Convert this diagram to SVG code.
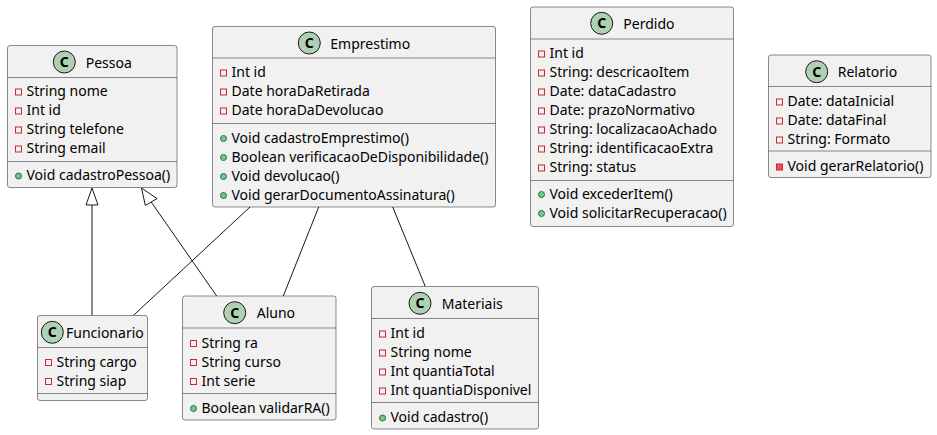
<svg xmlns="http://www.w3.org/2000/svg" width="937" height="435" viewBox="0 0 937 435">
<style>
.box{fill:#F1F1F1;stroke:#181818;stroke-width:0.5}
.sep{stroke:#181818;stroke-width:0.5}
.ci{fill:#ADD1B2;stroke:#181818;stroke-width:1}
.cl{font-family:"Noto Sans","DejaVu Sans",sans-serif;font-size:14px;font-weight:bold;fill:#000;text-anchor:middle}
.nm{font-family:"Noto Sans","DejaVu Sans",sans-serif;font-size:14px;fill:#000}
.tx{font-family:"Noto Sans","DejaVu Sans",sans-serif;font-size:14px;fill:#000}
.pa{fill:none;stroke:#C82930;stroke-width:1}
.pm{fill:#F24D5C;stroke:#C82930;stroke-width:1}
.pu{fill:#84BE84;stroke:#038048;stroke-width:1}
.ln{stroke:#181818;stroke-width:1;fill:none}
.tri{fill:none;stroke:#181818;stroke-width:1}
</style>
<rect width="937" height="435" fill="#FFFFFF"/>

<g id="connectors">
<polygon class="tri" points="92,188 86,205 98,205"/>
<line class="ln" x1="92" y1="205" x2="92" y2="315.5"/>
<polygon class="tri" points="141.5,188 145.3,205.4 157.1,198.6"/>
<line class="ln" x1="151.2" y1="202" x2="216.7" y2="296"/>
<line class="ln" x1="250" y1="207" x2="133.3" y2="315.5"/>
<line class="ln" x1="318.7" y1="207" x2="283.3" y2="296"/>
<line class="ln" x1="392.7" y1="207" x2="425.3" y2="286.5"/>
</g>

<g id="Pessoa">
<rect class="box" x="7.5" y="45.5" width="169.5" height="142" rx="2.5"/>
<circle class="ci" cx="64.3" cy="62" r="11"/>
<text class="cl" x="64.3" y="67">C</text>
<text class="nm" x="85.7" y="67.5">Pessoa</text>
<line class="sep" x1="7.5" y1="77.5" x2="177" y2="77.5"/>
<rect class="pa" x="15.5" y="89" width="6" height="6"/><text class="tx" x="26.5" y="96">String nome</text>
<rect class="pa" x="15.5" y="108" width="6" height="6"/><text class="tx" x="26.5" y="115">Int id</text>
<rect class="pa" x="15.5" y="127" width="6" height="6"/><text class="tx" x="26.5" y="134">String telefone</text>
<rect class="pa" x="15.5" y="146" width="6" height="6"/><text class="tx" x="26.5" y="153">String email</text>
<line class="sep" x1="7.5" y1="161.5" x2="177" y2="161.5"/>
<circle class="pu" cx="18.5" cy="176" r="3"/><text class="tx" x="26.5" y="180">Void cadastroPessoa()</text>
</g>

<g id="Emprestimo">
<rect class="box" x="212.5" y="26.5" width="283" height="180.5" rx="2.5"/>
<circle class="ci" cx="309.3" cy="43" r="11"/>
<text class="cl" x="309.3" y="48">C</text>
<text class="nm" x="330.3" y="48.5">Emprestimo</text>
<line class="sep" x1="212.5" y1="58" x2="495.5" y2="58"/>
<rect class="pa" x="220.5" y="70" width="6" height="6"/><text class="tx" x="231.5" y="77">Int id</text>
<rect class="pa" x="220.5" y="89" width="6" height="6"/><text class="tx" x="231.5" y="96">Date horaDaRetirada</text>
<rect class="pa" x="220.5" y="108" width="6" height="6"/><text class="tx" x="231.5" y="115">Date horaDaDevolucao</text>
<line class="sep" x1="212.5" y1="123.5" x2="495.5" y2="123.5"/>
<circle class="pu" cx="223.5" cy="138.5" r="3"/><text class="tx" x="231.5" y="142.5">Void cadastroEmprestimo()</text>
<circle class="pu" cx="223.5" cy="157.5" r="3"/><text class="tx" x="231.5" y="161.5">Boolean verificacaoDeDisponibilidade()</text>
<circle class="pu" cx="223.5" cy="176.5" r="3"/><text class="tx" x="231.5" y="180.5">Void devolucao()</text>
<circle class="pu" cx="223.5" cy="195.5" r="3"/><text class="tx" x="231.5" y="199.5">Void gerarDocumentoAssinatura()</text>
</g>

<g id="Perdido">
<rect class="box" x="530.5" y="7" width="203" height="219.5" rx="2.5"/>
<circle class="ci" cx="601.7" cy="23.3" r="11"/>
<text class="cl" x="601.7" y="28.3">C</text>
<text class="nm" x="623.3" y="28.5">Perdido</text>
<line class="sep" x1="530.5" y1="39" x2="733.5" y2="39"/>
<rect class="pa" x="538.5" y="51" width="6" height="6"/><text class="tx" x="549.5" y="58">Int id</text>
<rect class="pa" x="538.5" y="70" width="6" height="6"/><text class="tx" x="549.5" y="77">String: descricaoItem</text>
<rect class="pa" x="538.5" y="89" width="6" height="6"/><text class="tx" x="549.5" y="96">Date: dataCadastro</text>
<rect class="pa" x="538.5" y="108" width="6" height="6"/><text class="tx" x="549.5" y="115">Date: prazoNormativo</text>
<rect class="pa" x="538.5" y="127" width="6" height="6"/><text class="tx" x="549.5" y="134">String: localizacaoAchado</text>
<rect class="pa" x="538.5" y="146" width="6" height="6"/><text class="tx" x="549.5" y="153">String: identificacaoExtra</text>
<rect class="pa" x="538.5" y="165" width="6" height="6"/><text class="tx" x="549.5" y="172">String: status</text>
<line class="sep" x1="530.5" y1="180.5" x2="733.5" y2="180.5"/>
<circle class="pu" cx="541.5" cy="194.5" r="3"/><text class="tx" x="549.5" y="198.5">Void excederItem()</text>
<circle class="pu" cx="541.5" cy="213.5" r="3"/><text class="tx" x="549.5" y="217.5">Void solicitarRecuperacao()</text>
</g>

<g id="Relatorio">
<rect class="box" x="768.5" y="55" width="162.5" height="122.5" rx="2.5"/>
<circle class="ci" cx="816.7" cy="71.7" r="11"/>
<text class="cl" x="816.7" y="76.7">C</text>
<text class="nm" x="837.7" y="77">Relatorio</text>
<line class="sep" x1="768.5" y1="86.5" x2="931" y2="86.5"/>
<rect class="pa" x="776.5" y="99" width="6" height="6"/><text class="tx" x="787.5" y="106">Date: dataInicial</text>
<rect class="pa" x="776.5" y="118" width="6" height="6"/><text class="tx" x="787.5" y="125">Date: dataFinal</text>
<rect class="pa" x="776.5" y="137" width="6" height="6"/><text class="tx" x="787.5" y="144">String: Formato</text>
<line class="sep" x1="768.5" y1="151" x2="931" y2="151"/>
<rect class="pm" x="776.5" y="164" width="6" height="6"/><text class="tx" x="787.5" y="171">Void gerarRelatorio()</text>
</g>

<g id="Funcionario">
<rect class="box" x="37.5" y="315.5" width="110" height="85" rx="2.5"/>
<circle class="ci" cx="52.3" cy="332.3" r="11"/>
<text class="cl" x="52.3" y="337.3">C</text>
<text class="nm" x="66" y="337.5">Funcionario</text>
<line class="sep" x1="37.5" y1="347.5" x2="147.5" y2="347.5"/>
<rect class="pa" x="45.5" y="359.5" width="6" height="6"/><text class="tx" x="56.5" y="366.5">String cargo</text>
<rect class="pa" x="45.5" y="378.5" width="6" height="6"/><text class="tx" x="56.5" y="385.5">String siap</text>
<line class="sep" x1="37.5" y1="393.5" x2="147.5" y2="393.5"/>
</g>

<g id="Aluno">
<rect class="box" x="182.5" y="296" width="153.5" height="124" rx="2.5"/>
<circle class="ci" cx="234.7" cy="312.7" r="11"/>
<text class="cl" x="234.7" y="317.7">C</text>
<text class="nm" x="256.7" y="318">Aluno</text>
<line class="sep" x1="182.5" y1="328" x2="336" y2="328"/>
<rect class="pa" x="190.5" y="340.5" width="6" height="6"/><text class="tx" x="201.5" y="347.5">String ra</text>
<rect class="pa" x="190.5" y="359.5" width="6" height="6"/><text class="tx" x="201.5" y="366.5">String curso</text>
<rect class="pa" x="190.5" y="378.5" width="6" height="6"/><text class="tx" x="201.5" y="385.5">Int serie</text>
<line class="sep" x1="182.5" y1="393.5" x2="336" y2="393.5"/>
<circle class="pu" cx="193.5" cy="408.5" r="3"/><text class="tx" x="201.5" y="412.5">Boolean validarRA()</text>
</g>

<g id="Materiais">
<rect class="box" x="371.5" y="286.5" width="167" height="142.5" rx="2.5"/>
<circle class="ci" cx="420" cy="303.3" r="11"/>
<text class="cl" x="420" y="308.3">C</text>
<text class="nm" x="441.7" y="308.5">Materiais</text>
<line class="sep" x1="371.5" y1="318.5" x2="538.5" y2="318.5"/>
<rect class="pa" x="379.5" y="331" width="6" height="6"/><text class="tx" x="390.5" y="338">Int id</text>
<rect class="pa" x="379.5" y="350" width="6" height="6"/><text class="tx" x="390.5" y="357">String nome</text>
<rect class="pa" x="379.5" y="369" width="6" height="6"/><text class="tx" x="390.5" y="376">Int quantiaTotal</text>
<rect class="pa" x="379.5" y="388" width="6" height="6"/><text class="tx" x="390.5" y="395">Int quantiaDisponivel</text>
<line class="sep" x1="371.5" y1="402.5" x2="538.5" y2="402.5"/>
<circle class="pu" cx="382.5" cy="418" r="3"/><text class="tx" x="390.5" y="422">Void cadastro()</text>
</g>
</svg>
